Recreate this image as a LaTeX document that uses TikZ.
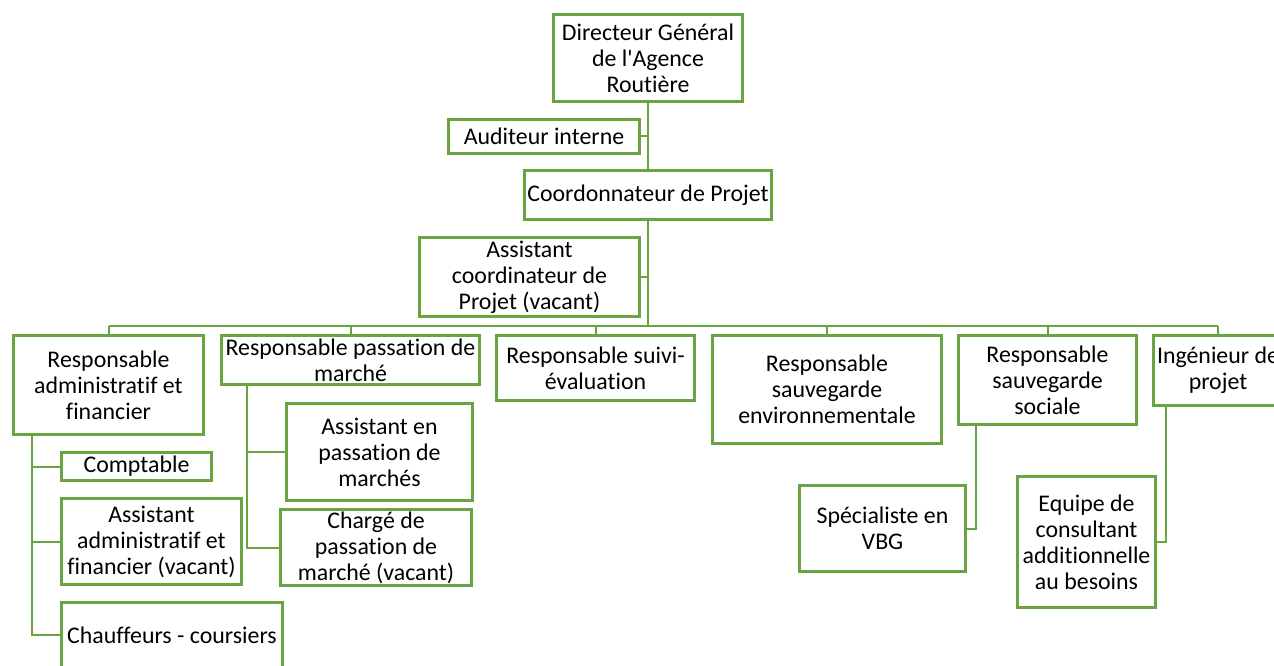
\documentclass[tikz,border=0pt]{standalone}
\usepackage{fontspec}
\setmainfont{Carlito}[Ligatures=NoCommon]
\definecolor{orgGreen}{RGB}{106,164,66}

\begin{document}
\begin{tikzpicture}[
  x=0.75pt, y=-0.75pt,
  box/.style={
    draw=orgGreen,
    line width=2.4pt,
    inner sep=0pt,
    align=center,
    font=\fontsize{17.9}{19.5}\selectfont
  },
  sz/.style 2 args={
    minimum width=#1*0.75pt-2.4pt,
    minimum height=#2*0.75pt-2.4pt
  },
  link/.style={
    draw=orgGreen,
    line width=1.5pt
  }
]

\useasboundingbox (0,0) rectangle (1274,666);
\clip (0,0) rectangle (1274,666);

% top of the chart
\node[box, sz={192}{90}]  (dg)     at (648,58)    {Directeur Général\\de l\textquotesingle Agence\\Routière};
\node[box, sz={194}{37}]  (audit)  at (544,136.5) {Auditeur interne};
\node[box, sz={250}{52}]  (coord)  at (648,195)   {Coordonnateur de Projet};
\node[box, sz={223}{82}]  (acoord) at (529.5,277) {Assistant\\coordinateur de\\Projet (vacant)};

% heads of units
\node[box, sz={193}{102}] (raf)    at (108.5,385)  {Responsable\\administratif et\\financier};
\node[box, sz={261}{52}]  (rpm)    at (350.5,360)  {Responsable passation de\\marché};
\node[box, sz={201}{68}]  (suivi)  at (595.5,368)  {Responsable suivi-\\évaluation};
\node[box, sz={232}{111}] (env)    at (827,389.5)  {Responsable\\sauvegarde\\environnementale};
\node[box, sz={181}{92}]  (rss)    at (1047.5,380) {Responsable\\sauvegarde\\sociale};
\node[box, sz={132}{73}]  (ing)    at (1218,370.5) {Ingénieur de\\projet};

% staff
\node[box, sz={153}{31}]  (compt)  at (136.5,466.5) {Comptable};
\node[box, sz={183}{89}]  (aaf)    at (151.5,541.5) {Assistant\\administratif et\\financier (vacant)};
\node[box, sz={224}{68}]  (chauf)  at (172,635)     {Chauffeurs - coursiers};
\node[box, sz={189}{100}] (apm)    at (379.5,452)   {Assistant en\\passation de\\marchés};
\node[box, sz={194}{79}]  (charge) at (376,547.5)   {Chargé de\\passation de\\marché (vacant)};
\node[box, sz={169}{89}]  (vbg)    at (882.5,528.5) {Spécialiste en\\VBG};
\node[box, sz={141}{134}] (equipe) at (1086.5,542)  {Equipe de\\consultant\\additionnelle\\au besoins};

% connectors
\coordinate (bus) at (648,326);
\draw[link] (dg) -- (coord);
\draw[link] (audit.east) -- (audit.east -| dg.south);
\draw[link] (coord) -- (bus);
\draw[link] (acoord.east) -- (acoord.east -| coord.south);
\draw[link] (bus -| raf.north) -- (bus -| ing.north);
\foreach \n in {raf,rpm,suivi,env,rss,ing}
  \draw[link] (bus -| \n.north) -- (\n.north);

\foreach \n in {compt,aaf,chauf}
  \draw[link] ([xshift=15pt]raf.south west) |- (\n.west);
\foreach \n in {apm,charge}
  \draw[link] ([xshift=20.25pt]rpm.south west) |- (\n.west);
\draw[link] ([xshift=14.25pt]rss.south west) |- (vbg.east);
\draw[link] ([xshift=10.5pt]ing.south west) |- (equipe.east);

\end{tikzpicture}
\end{document}
